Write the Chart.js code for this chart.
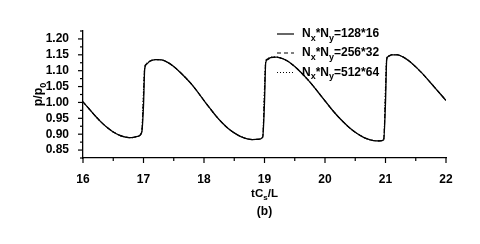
<!DOCTYPE html>
<html>
<head>
<meta charset="utf-8">
<script src="https://cdn.jsdelivr.net/npm/chart.js@4"></script>
<style>
  html, body { margin: 0; padding: 0; background: #fff; }
  #wrap { width: 480px; height: 244px; }
</style>
</head>
<body>
<div id="wrap"><canvas id="chart" width="480" height="244"></canvas></div>
<script>
// time axis tC_s/L
const times = [
  16.0, 16.1, 16.2, 16.3, 16.4, 16.5, 16.6, 16.7, 16.8, 16.9, 16.97,
  17.0, 17.02, 17.05, 17.1, 17.2, 17.3, 17.4, 17.5, 17.6, 17.7, 17.8, 17.9,
  18.0, 18.1, 18.2, 18.3, 18.4, 18.5, 18.6, 18.7, 18.8, 18.9, 18.97,
  19.0, 19.02, 19.05, 19.1, 19.2, 19.3, 19.4, 19.5, 19.6, 19.7, 19.8, 19.9,
  20.0, 20.1, 20.2, 20.3, 20.4, 20.5, 20.6, 20.7, 20.8, 20.9, 20.97,
  21.0, 21.02, 21.05, 21.1, 21.2, 21.3, 21.4, 21.5, 21.6, 21.7, 21.8, 21.9, 22.0
];
// p/p0 for each grid
const p128 = [
  1.002, 0.980, 0.958, 0.938, 0.921, 0.907, 0.897, 0.891, 0.889, 0.893, 0.905,
  0.990, 1.105, 1.120, 1.129, 1.135, 1.134, 1.126, 1.113, 1.096, 1.077, 1.056, 1.032,
  1.006, 0.981, 0.957, 0.936, 0.918, 0.904, 0.893, 0.886, 0.883, 0.884, 0.890,
  1.000, 1.125, 1.135, 1.141, 1.143, 1.138, 1.128, 1.113, 1.095, 1.075, 1.053, 1.029,
  1.005, 0.981, 0.959, 0.939, 0.921, 0.906, 0.894, 0.885, 0.880, 0.879, 0.882,
  1.000, 1.135, 1.145, 1.150, 1.150, 1.142, 1.129, 1.112, 1.093, 1.072, 1.050, 1.028, 1.006
];
const p256 = [
  1.002, 0.980, 0.958, 0.938, 0.921, 0.907, 0.897, 0.891, 0.889, 0.893, 0.906,
  1.020, 1.110, 1.122, 1.130, 1.135, 1.134, 1.126, 1.113, 1.096, 1.077, 1.056, 1.032,
  1.006, 0.981, 0.957, 0.936, 0.918, 0.904, 0.893, 0.886, 0.883, 0.884, 0.891,
  1.030, 1.128, 1.137, 1.142, 1.143, 1.138, 1.128, 1.113, 1.095, 1.075, 1.053, 1.029,
  1.005, 0.981, 0.959, 0.939, 0.921, 0.906, 0.894, 0.885, 0.880, 0.879, 0.883,
  1.030, 1.138, 1.146, 1.150, 1.150, 1.142, 1.129, 1.112, 1.093, 1.072, 1.050, 1.028, 1.006
];
const p512 = [
  1.002, 0.980, 0.958, 0.938, 0.921, 0.907, 0.897, 0.891, 0.889, 0.893, 0.907,
  1.040, 1.112, 1.123, 1.130, 1.135, 1.134, 1.126, 1.113, 1.096, 1.077, 1.056, 1.032,
  1.006, 0.981, 0.957, 0.936, 0.918, 0.904, 0.893, 0.886, 0.883, 0.884, 0.892,
  1.050, 1.130, 1.138, 1.142, 1.143, 1.138, 1.128, 1.113, 1.095, 1.075, 1.053, 1.029,
  1.005, 0.981, 0.959, 0.939, 0.921, 0.906, 0.894, 0.885, 0.880, 0.879, 0.884,
  1.050, 1.140, 1.147, 1.150, 1.150, 1.142, 1.129, 1.112, 1.093, 1.072, 1.050, 1.028, 1.006
];
// legend labels: [text, isSubscript] pieces
const gridLabels = [
  [["N", 0], ["x", 1], ["*N", 0], ["y", 1], ["=128*16", 0]],
  [["N", 0], ["x", 1], ["*N", 0], ["y", 1], ["=256*32", 0]],
  [["N", 0], ["x", 1], ["*N", 0], ["y", 1], ["=512*64", 0]]
];
const yTitle = [["p/p", 0], ["0", 1]];
const xTitle = [["tC", 0], ["s", 1], ["/L", 0]];
const panelLabel = "(b)";

const FONT = '"Liberation Sans", Arial, sans-serif';

function pts(ys) {
  return times.map((t, i) => ({ x: t, y: ys[i] }));
}

function drawRich(ctx, parts, x, y, size, align) {
  const subSize = Math.round(size * 0.72);
  let w = 0;
  parts.forEach(([t, s]) => {
    ctx.font = "bold " + (s ? subSize : size) + "px " + FONT;
    w += ctx.measureText(t).width;
  });
  let cx = align === "center" ? x - w / 2 : x;
  ctx.textAlign = "left";
  ctx.textBaseline = "alphabetic";
  parts.forEach(([t, s]) => {
    ctx.font = "bold " + (s ? subSize : size) + "px " + FONT;
    ctx.fillText(t, cx, s ? y + size * 0.3 : y);
    cx += ctx.measureText(t).width;
  });
}

const decor = {
  id: "decor",
  afterDraw(chart) {
    const ctx = chart.ctx;
    const xs = chart.scales.x, ys = chart.scales.y;
    const area = chart.chartArea;
    ctx.save();
    ctx.strokeStyle = "#000";
    ctx.fillStyle = "#000";
    ctx.lineWidth = 1.2;
    // ticks, major and minor, pointing outward
    xs.ticks.forEach(t => {
      const px = xs.getPixelForValue(t.value);
      const major = Math.abs(t.value - Math.round(t.value)) < 1e-6;
      ctx.beginPath();
      ctx.moveTo(px, area.bottom);
      ctx.lineTo(px, area.bottom + (major ? 5 : 3));
      ctx.stroke();
    });
    ys.ticks.forEach(t => {
      const py = ys.getPixelForValue(t.value);
      const major = Math.round(t.value * 1000) % 50 === 0;
      ctx.beginPath();
      ctx.moveTo(area.left, py);
      ctx.lineTo(area.left - (major ? 5 : 3), py);
      ctx.stroke();
    });
    // axis titles
    const midX = (area.left + area.right) / 2;
    drawRich(ctx, xTitle, midX, 197, 11.5, "center");
    ctx.font = "bold 12px " + FONT;
    ctx.textAlign = "center";
    ctx.fillText(panelLabel, midX, 215);
    ctx.save();
    ctx.translate(42, (area.top + area.bottom) / 2);
    ctx.rotate(-Math.PI / 2);
    drawRich(ctx, yTitle, 0, 0, 12.5, "center");
    ctx.restore();
    // legend
    const rowY = [34, 53, 72.5];
    chart.data.datasets.forEach((ds, i) => {
      ctx.save();
      ctx.lineWidth = 1.2;
      ctx.setLineDash(ds.borderDash || []);
      ctx.beginPath();
      ctx.moveTo(277, rowY[i]);
      ctx.lineTo(294, rowY[i]);
      ctx.stroke();
      ctx.restore();
      drawRich(ctx, gridLabels[i], 302, rowY[i] + 3, 12, "left");
    });
    ctx.restore();
  }
};

new Chart(document.getElementById("chart"), {
  type: "line",
  data: {
    datasets: [
      { label: "128*16", data: pts(p128), borderColor: "#000", borderWidth: 1.3, borderDash: [] },
      { label: "256*32", data: pts(p256), borderColor: "#000", borderWidth: 1.1, borderDash: [4, 3] },
      { label: "512*64", data: pts(p512), borderColor: "#000", borderWidth: 1.1, borderDash: [1, 2] }
    ]
  },
  options: {
    responsive: false,
    animation: false,
    events: [],
    elements: {
      point: { radius: 0 },
      line: { cubicInterpolationMode: "monotone", fill: false }
    },
    layout: { padding: { left: 0, top: 31, right: 34, bottom: 0 } },
    plugins: { legend: { display: false }, tooltip: { enabled: false } },
    scales: {
      x: {
        type: "linear",
        min: 16, max: 22,
        afterFit: s => { s.height = 86; },
        grid: { display: false },
        border: { display: true, color: "#000", width: 1.3 },
        ticks: {
          stepSize: 0.5, autoSkip: false, maxRotation: 0, padding: 6,
          color: "#000", font: { family: FONT, size: 12, weight: "bold" },
          callback: v => Math.abs(v - Math.round(v)) < 1e-6 ? String(Math.round(v)) : ""
        }
      },
      y: {
        min: 0.825, max: 1.225,
        afterFit: s => { s.width = 83; },
        grid: { display: false },
        border: { display: true, color: "#000", width: 1.3 },
        ticks: {
          stepSize: 0.025, autoSkip: false, padding: 6,
          color: "#000", font: { family: FONT, size: 12, weight: "bold" },
          callback: v => Math.round(v * 1000) % 50 === 0 ? v.toFixed(2) : ""
        }
      }
    }
  },
  plugins: [decor]
});
</script>
</body>
</html>
